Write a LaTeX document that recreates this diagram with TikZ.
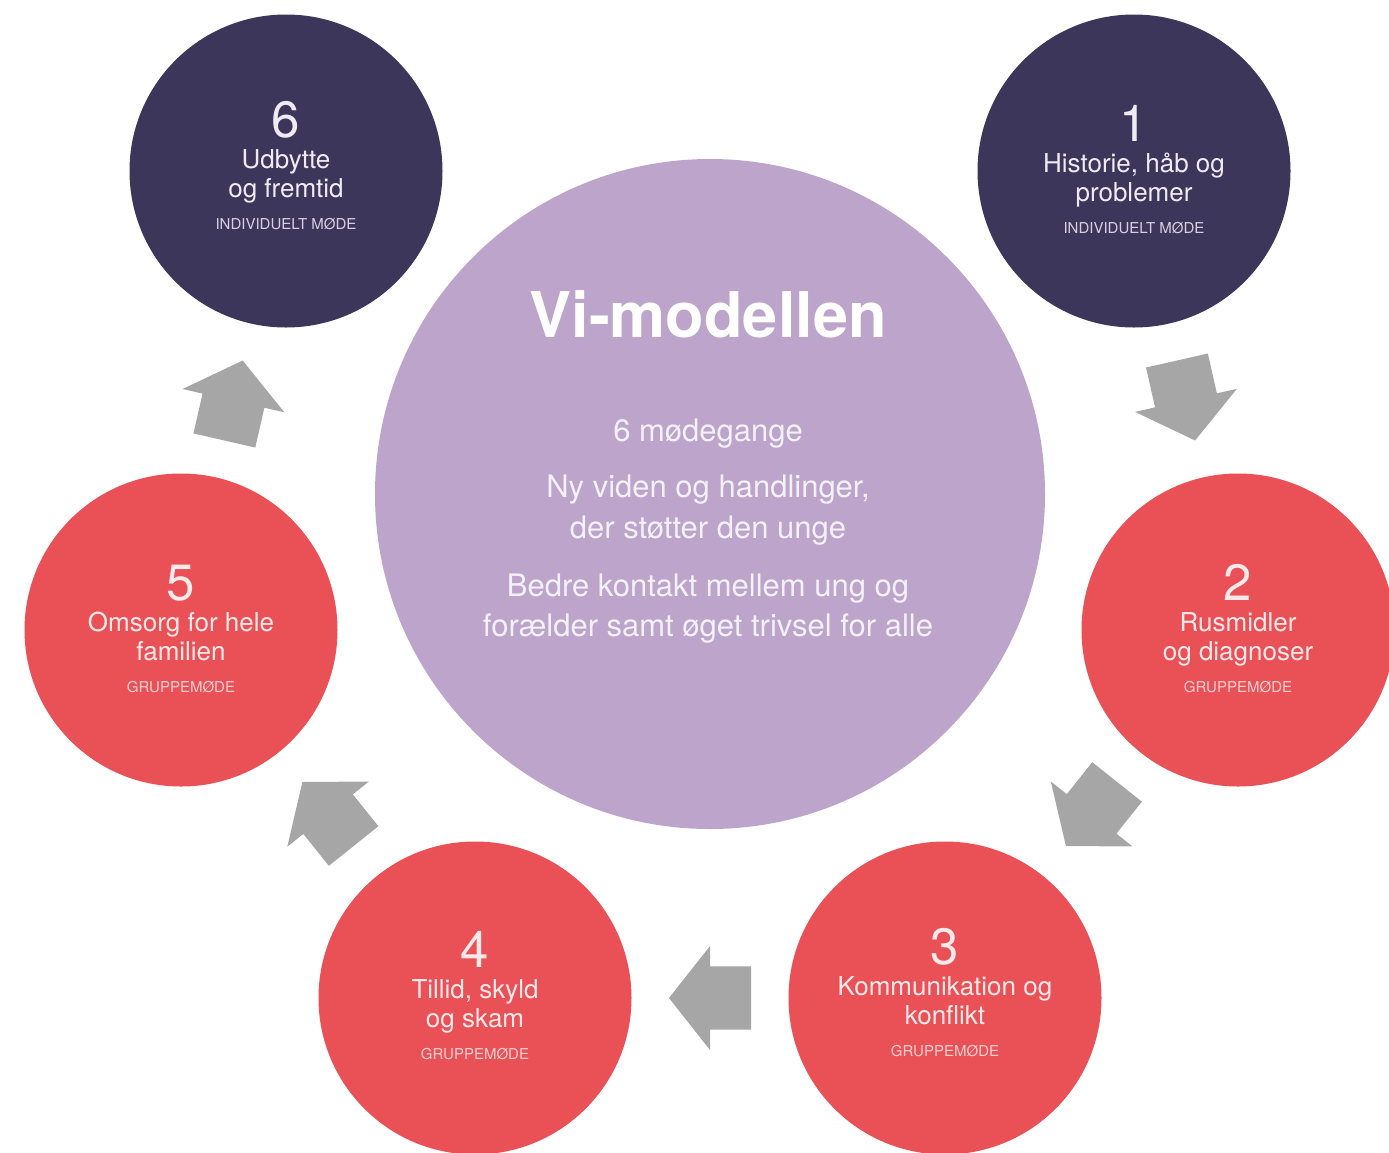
\documentclass[tikz,border=0pt]{standalone}
\usepackage{fontspec}
\setmainfont{TeX Gyre Heros}
\usetikzlibrary{calc,shapes.arrows}

\definecolor{navyfill}{HTML}{3D365B}
\definecolor{navytext}{HTML}{EEEBF3}
\definecolor{navysub}{HTML}{D6D1E2}
\definecolor{redfill}{HTML}{E95157}
\definecolor{redtext}{HTML}{FDE9E9}
\definecolor{redsub}{HTML}{F9CFD0}
\definecolor{hubfill}{HTML}{BCA4CB}
\definecolor{hubtext}{HTML}{F4F0F7}
\definecolor{arrowgray}{HTML}{A6A6A6}

\tikzset{
  stagecircle/.style={circle, minimum size=313pt, inner sep=0pt, draw=none},
  hubcircle/.style={circle, minimum size=670pt, inner sep=0pt, draw=none, fill=hubfill},
  numtext/.style={anchor=base, inner sep=0pt, font=\fontsize{51}{51}\selectfont},
  stagetext/.style={anchor=base, inner sep=0pt, font=\fontsize{26}{26}\selectfont},
  subtext/.style={anchor=base, inner sep=0pt, font=\fontsize{15}{15}\selectfont},
  hubline/.style={anchor=base, inner sep=0pt, text=hubtext, font=\fontsize{31}{31}\selectfont},
  blockarrow/.style={single arrow, fill=arrowgray, draw=none, inner xsep=0pt,
    inner ysep=31.5pt, outer sep=0pt, single arrow head extend=20.5pt,
    single arrow tip angle=103.5, minimum height=82pt},
}

% one meeting: name, x, y, colour set, number, two text lines, meeting type, vertical nudge
\newcommand\stage[9]{%
  \node[stagecircle, fill=#4fill] (#1) at (#2,#3) {};
  \node[numtext, text=#4text] at ($(#1)+(0,{#9-30})$) {#5};
  \node[stagetext, text=#4text] at ($(#1)+(0,{#9+1})$) {#6};
  \node[stagetext, text=#4text] at ($(#1)+(0,{#9+30})$) {#7};
  \node[subtext, text=#4sub] at ($(#1)+(0,{#9+62})$) {#8};
}

% block arrow centred half way between two meetings, pointing from #1 to #2
\newcommand\flowarrow[3]{%
  \path ($(#1)!0.5!(#2)!41pt!(#1)$) -- (#2)
    node[pos=0, sloped, allow upside down, anchor=tail, blockarrow] (#3) {};
}

\begin{document}
\begin{tikzpicture}[x=1pt, y=-1pt]
  \useasboundingbox (0,0) rectangle (1389,1152);
  \clip (0,0) rectangle (1389,1152);
  \fill[white] (0,0) rectangle (1389,1152);

  % centre circle
  \node[hubcircle] (hub) at (710,494) {};
  \node[anchor=base, inner sep=0pt, text=white, font=\fontsize{63}{63}\selectfont\bfseries]
    at ($(hub)+(-2,-157)$) {Vi-modellen};
  \node[hubline] at ($(hub)+(-2,-53)$) {6 mødegange};
  \node[hubline] at ($(hub)+(-2,3)$) {Ny viden og handlinger,};
  \node[hubline] at ($(hub)+(-2,44)$) {der støtter den unge};
  \node[hubline] at ($(hub)+(-2,102)$) {Bedre kontakt mellem ung og};
  \node[hubline] at ($(hub)+(-2,142)$) {forælder samt øget trivsel for alle};

  % the six meetings
  \stage{s1}{1134}{171}{navy}{1}{Historie, håb og}{problemer}{INDIVIDUELT MØDE}{0}
  \stage{s2}{1238}{630}{red}{2}{Rusmidler}{og diagnoser}{GRUPPEMØDE}{0}
  \stage{s3}{945}{998}{red}{3}{Kommunikation og}{konflikt}{GRUPPEMØDE}{-4}
  \stage{s4}{475}{998}{red}{4}{Tillid, skyld}{og skam}{GRUPPEMØDE}{-1}
  \stage{s5}{181}{630}{red}{5}{Omsorg for hele}{familien}{GRUPPEMØDE}{0}
  \stage{s6}{286}{171}{navy}{6}{Udbytte}{og fremtid}{INDIVIDUELT MØDE}{-4}

  % block arrows between consecutive meetings
  \flowarrow{s1}{s2}{a12}
  \flowarrow{s2}{s3}{a23}
  \flowarrow{s3}{s4}{a34}
  \flowarrow{s4}{s5}{a45}
  \flowarrow{s5}{s6}{a56}
\end{tikzpicture}
\end{document}
